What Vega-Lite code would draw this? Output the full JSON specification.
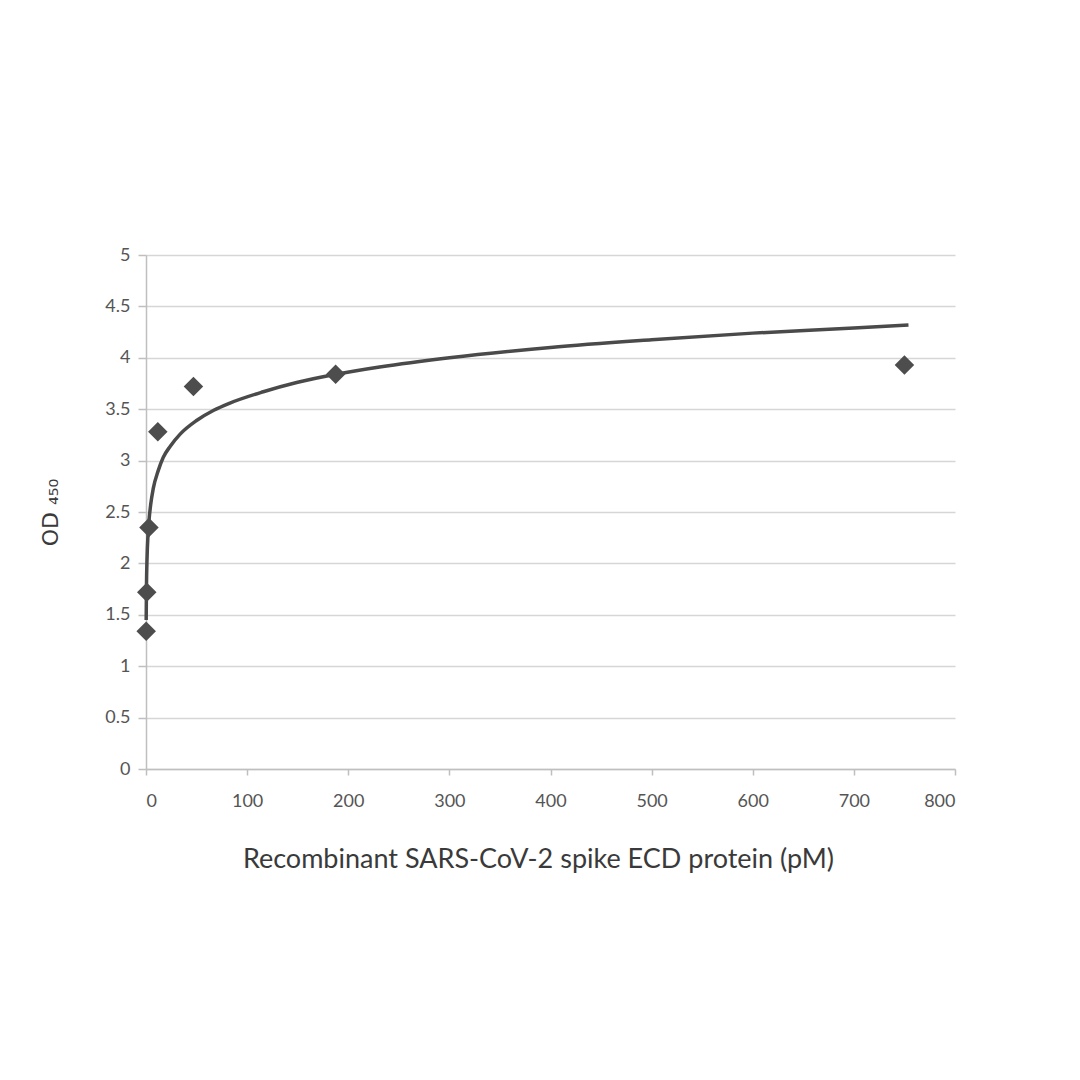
{
  "$schema": "https://vega.github.io/schema/vega-lite/v6.json",
  "autosize": "none",
  "width": 809,
  "height": 514,
  "padding": {"left": 146, "top": 255, "right": 125, "bottom": 311},
  "background": "white",
  "config": {
    "view": {"stroke": null},
    "font": "Lato"
  },
  "datasets": {
    "points": [
      {"conc": 0.18, "od": 1.34},
      {"conc": 0.73, "od": 1.72},
      {"conc": 2.93, "od": 2.35},
      {"conc": 11.7, "od": 3.28},
      {"conc": 46.9, "od": 3.72},
      {"conc": 187.5, "od": 3.84},
      {"conc": 750, "od": 3.93}
    ],
    "curve": [
      {"conc": 0.18, "od": 1.45},
      {"conc": 0.5, "od": 1.8},
      {"conc": 1, "od": 2.04},
      {"conc": 2, "od": 2.28},
      {"conc": 3, "od": 2.42},
      {"conc": 4.6, "od": 2.57},
      {"conc": 7.2, "od": 2.73},
      {"conc": 12, "od": 2.9},
      {"conc": 17, "od": 3.03},
      {"conc": 24, "od": 3.14},
      {"conc": 34, "od": 3.26},
      {"conc": 50, "od": 3.39},
      {"conc": 67, "od": 3.49},
      {"conc": 83, "od": 3.56},
      {"conc": 116, "od": 3.67},
      {"conc": 149, "od": 3.76},
      {"conc": 188, "od": 3.84},
      {"conc": 231, "od": 3.91},
      {"conc": 300, "od": 4.0},
      {"conc": 400, "od": 4.1},
      {"conc": 500, "od": 4.175},
      {"conc": 600, "od": 4.24},
      {"conc": 700, "od": 4.29},
      {"conc": 754, "od": 4.32}
    ]
  },
  "layer": [
    {
      "data": {"name": "curve"},
      "mark": {"type": "line", "color": "#4a4a4a", "strokeWidth": 3.5, "interpolate": "monotone", "clip": false},
      "encoding": {
        "x": {
          "field": "conc", "type": "quantitative",
          "scale": {"domain": [0, 800], "nice": false, "zero": true},
          "axis": {
            "values": [0, 100, 200, 300, 400, 500, 600, 700, 800],
            "grid": false,
            "domainColor": "#bfbfbf",
            "domainWidth": 1.5,
            "tickColor": "#bfbfbf",
            "tickSize": 6,
            "tickWidth": 1.5,
            "labelFont": "Lato",
            "labelFontSize": 18,
            "labelColor": "#555555",
            "labelPadding": 17,
            "labelAngle": 0,
            "title": "Recombinant SARS-CoV-2 spike ECD protein (pM)",
            "titleFont": "Lato",
            "titleFontSize": 27,
            "titleFontWeight": "normal",
            "titleColor": "#3a3a3a",
            "titleX": 392,
            "titleY": 77,
            "titleBaseline": "top"
          }
        },
        "y": {
          "field": "od", "type": "quantitative",
          "scale": {"domain": [0, 5], "nice": false},
          "axis": {
            "values": [0, 0.5, 1, 1.5, 2, 2.5, 3, 3.5, 4, 4.5, 5],
            "format": "~g",
            "grid": true,
            "gridColor": "#d6d6d6",
            "gridWidth": 1.5,
            "domainColor": "#bfbfbf",
            "domainWidth": 1.5,
            "tickColor": "#bfbfbf",
            "tickSize": 8,
            "tickWidth": 1.5,
            "labelFont": "Lato",
            "labelFontSize": 18,
            "labelColor": "#555555",
            "labelPadding": 8,
            "title": "OD ₄₅₀",
            "titleFont": "DejaVu Sans",
            "titleFontSize": 22,
            "titleFontWeight": "normal",
            "titleColor": "#3a3a3a",
            "titlePadding": 42
          }
        }
      }
    },
    {
      "data": {"name": "points"},
      "mark": {"type": "point", "shape": "diamond", "filled": true, "size": 380, "color": "#4d4d4d", "opacity": 1, "clip": false},
      "encoding": {
        "x": {"field": "conc", "type": "quantitative"},
        "y": {"field": "od", "type": "quantitative"}
      }
    }
  ]
}
